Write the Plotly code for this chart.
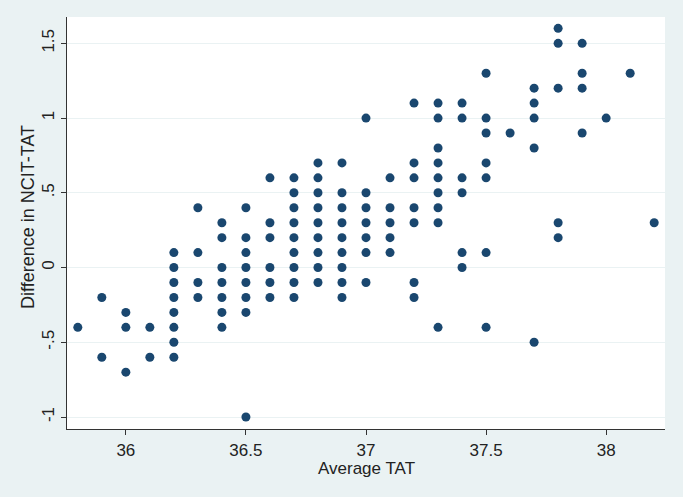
import plotly.graph_objects as go

# Average TAT (x) and difference NCIT-TAT (y), one entry per observation
avg_tat = (
    [35.8]
    + [35.9] * 2
    + [36.0] * 3
    + [36.1] * 2
    + [36.2] * 8
    + [36.3] * 4
    + [36.4] * 7
    + [36.5] * 8
    + [36.6] * 6
    + [36.7] * 9
    + [36.8] * 9
    + [36.9] * 9
    + [37.0] * 7
    + [37.1] * 5
    + [37.2] * 7
    + [37.3] * 9
    + [37.4] * 6
    + [37.5] * 7
    + [37.6] * 1
    + [37.7] * 5
    + [37.8] * 5
    + [37.9] * 4
    + [38.0] * 1
    + [38.1] * 1
    + [38.2] * 1
)

diff_ncit_tat = [
    -0.4,
    -0.2, -0.6,
    -0.3, -0.4, -0.7,
    -0.4, -0.6,
    0.1, 0.0, -0.1, -0.2, -0.3, -0.4, -0.5, -0.6,
    0.4, 0.1, -0.1, -0.2,
    0.3, 0.2, 0.0, -0.1, -0.2, -0.3, -0.4,
    0.4, 0.2, 0.1, 0.0, -0.1, -0.2, -0.3, -1.0,
    0.6, 0.3, 0.2, 0.0, -0.1, -0.2,
    0.6, 0.5, 0.4, 0.3, 0.2, 0.1, 0.0, -0.1, -0.2,
    0.7, 0.6, 0.5, 0.4, 0.3, 0.2, 0.1, 0.0, -0.1,
    0.7, 0.5, 0.4, 0.3, 0.2, 0.1, 0.0, -0.1, -0.2,
    1.0, 0.5, 0.4, 0.3, 0.2, 0.1, -0.1,
    0.6, 0.4, 0.3, 0.2, 0.1,
    1.1, 0.7, 0.6, 0.4, 0.3, -0.1, -0.2,
    1.1, 1.0, 0.8, 0.7, 0.6, 0.5, 0.4, 0.3, -0.4,
    1.1, 1.0, 0.6, 0.5, 0.1, 0.0,
    1.3, 1.0, 0.9, 0.7, 0.6, 0.1, -0.4,
    0.9,
    1.2, 1.1, 1.0, 0.8, -0.5,
    1.6, 1.5, 1.2, 0.3, 0.2,
    1.5, 1.3, 1.2, 0.9,
    1.0,
    1.3,
    0.3,
]

x_ticks = [36, 36.5, 37, 37.5, 38]
x_ticklabels = ["36", "36.5", "37", "37.5", "38"]
y_ticks = [-1, -0.5, 0, 0.5, 1, 1.5]
y_ticklabels = ["-1", "-.5", "0", ".5", "1", "1.5"]

fig = go.Figure(go.Scatter(
    x=avg_tat, y=diff_ncit_tat,
    mode='markers',
    marker=dict(size=9, color='#1a476f'),
    showlegend=False
))

fig.update_layout(
    width=683, height=497,
    paper_bgcolor='#eaf2f3',
    plot_bgcolor='#ffffff',
    margin=dict(l=67, r=18, t=17, b=68),
    font=dict(family='Liberation Sans, Arial', size=17, color='#222222'),
)

fig.update_xaxes(
    range=[35.755, 38.245],
    tickvals=x_ticks, ticktext=x_ticklabels,
    showgrid=False, zeroline=False, automargin=False,
    showline=True, linecolor='#333333', linewidth=1,
    ticks='outside', ticklen=5, tickcolor='#333333',
    ticklabelstandoff=1,
)

fig.update_yaxes(
    range=[-1.08, 1.676],
    tickvals=y_ticks, ticktext=y_ticklabels, tickangle=-90,
    showgrid=True, gridcolor='#eaf2f3', gridwidth=1,
    zeroline=False, automargin=False,
    showline=True, linecolor='#333333', linewidth=1,
    ticks='outside', ticklen=5, tickcolor='#333333',
    ticklabelstandoff=0,
)

# axis titles placed as annotations so they sit where Stata puts them
fig.add_annotation(text='Average TAT', xref='paper', yref='paper',
                   x=0.5, y=0, yanchor='middle', yshift=-39,
                   showarrow=False, font=dict(size=17))
fig.add_annotation(text='Difference in NCIT-TAT', xref='paper', yref='paper',
                   x=0, y=0.5, xanchor='center', xshift=-39, yshift=6,
                   textangle=-90, showarrow=False, font=dict(size=18))

# page body has a default 8px margin; drop it so the figure fills the window
fig.write_html("out.html", config={'displayModeBar': False},
               post_script="document.body.style.margin='0';"
                           "document.body.style.background='#eaf2f3';")
